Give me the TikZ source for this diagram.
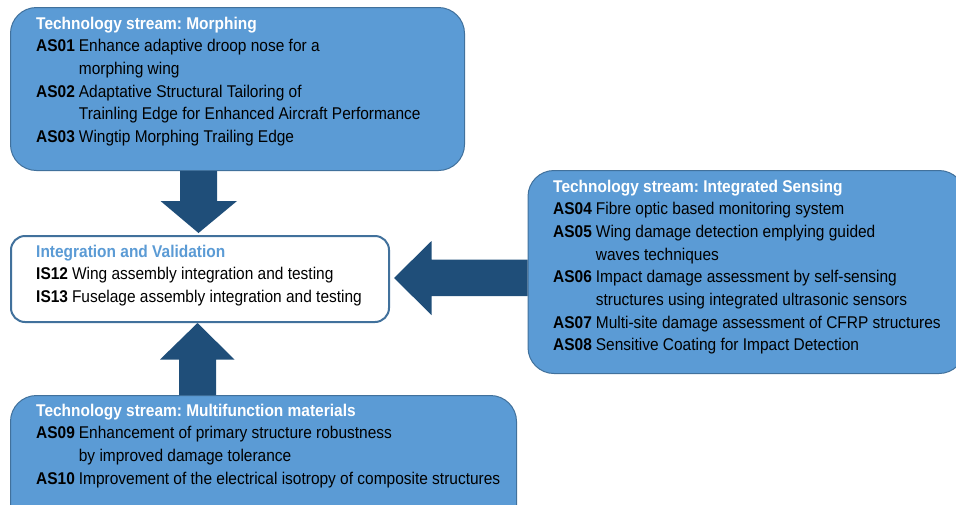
\documentclass[tikz,border=0pt]{standalone}
\usepackage{fontspec}
\setmainfont{Liberation Sans}[FakeStretch=0.91]
\usetikzlibrary{positioning}

\definecolor{streamfill}{HTML}{5B9BD5}
\definecolor{streamline}{HTML}{41719C}
\definecolor{arrowblue}{HTML}{1F4E79}

\newcommand{\wpline}[2]{\textbf{#1} & #2\\}
\newcommand{\wptitle}[2]{\multicolumn{2}{@{}l@{}}{\color{#1}\bfseries #2}\\}
\newenvironment{wplist}{\frenchspacing\fontsize{17}{22.7}\selectfont\begin{tabular}[t]{@{}l@{\hspace{4pt}}l@{}}}{\end{tabular}}

\begin{document}
\begin{tikzpicture}[x=1pt,y=-1pt,
  stream/.style={draw=streamline,fill=streamfill,line width=1pt,rounded corners=26pt,anchor=north west,inner sep=0pt},
  integbox/.style={draw=streamline,fill=white,line width=2pt,rounded corners=14pt,anchor=north west,inner sep=0pt},
  wptext/.style={anchor=base west,inner sep=0pt,align=left},
  flowarrow/.style={fill=arrowblue}]
  \useasboundingbox (0,0) rectangle (956,504);
  \begin{scope}
  \clip (0,0) rectangle (956,504);

  % boxes
  \node[stream,minimum width=454,minimum height=163] (morph) at (10,7) {};
  \node[integbox,minimum width=378,minimum height=86] (integ) at (10,235) {};
  \node[stream,minimum width=437,minimum height=203] (sensing) at (527.5,170) {};
  \node[stream,minimum width=506,minimum height=140] (multi) at (10,395) {};

  % arrows
  \fill[flowarrow] (180,0 |- morph.south) -- (217,0 |- morph.south) -- (217,201) -- (237,201)
    -- (198.5,233) -- (160.5,201) -- (180,201) -- cycle;
  \fill[flowarrow] (0,259.5 -| sensing.west) -- (431.5,259.5) -- (431.5,241) -- (394,278)
    -- (431.5,315) -- (431.5,296) -- (0,296 -| sensing.west) -- cycle;
  \fill[flowarrow] (179,0 |- multi.north) -- (216,0 |- multi.north) -- (216,359.5) -- (234.5,359.5)
    -- (197.5,323) -- (160,359.5) -- (179,359.5) -- cycle;
  \end{scope}

  % texts
  \node[wptext] (morphtxt) at (36,29) {\begin{wplist}
    \wptitle{white}{Technology stream: Morphing}
    \wpline{AS01}{Enhance adaptive droop nose for a}
    \wpline{}{morphing wing}
    \wpline{AS02}{Adaptative Structural Tailoring of}
    \wpline{}{Trainling Edge for Enhanced Aircraft Performance}
    \wpline{AS03}{Wingtip Morphing Trailing Edge}
  \end{wplist}};
  \node[wptext] (integtxt) at (36,257) {\begin{wplist}
    \wptitle{streamfill}{Integration and Validation}
    \wpline{IS12}{Wing assembly integration and testing}
    \wpline{IS13}{Fuselage assembly integration and testing}
  \end{wplist}};
  \node[wptext] (sensingtxt) at (553,192) {\begin{wplist}
    \wptitle{white}{Technology stream: Integrated Sensing}
    \wpline{AS04}{Fibre optic based monitoring system}
    \wpline{AS05}{Wing damage detection emplying guided}
    \wpline{}{waves techniques}
    \wpline{AS06}{Impact damage assessment by self-sensing}
    \wpline{}{structures using integrated ultrasonic sensors}
    \wpline{AS07}{Multi-site damage assessment of CFRP structures}
    \wpline{AS08}{Sensitive Coating for Impact Detection}
  \end{wplist}};
  \node[wptext] (multitxt) at (36,416) {\begin{wplist}
    \wptitle{white}{Technology stream: Multifunction materials}
    \wpline{AS09}{Enhancement of primary structure robustness}
    \wpline{}{by improved damage tolerance}
    \wpline{AS10}{Improvement of the electrical isotropy of composite structures}
  \end{wplist}};
\end{tikzpicture}
\end{document}
